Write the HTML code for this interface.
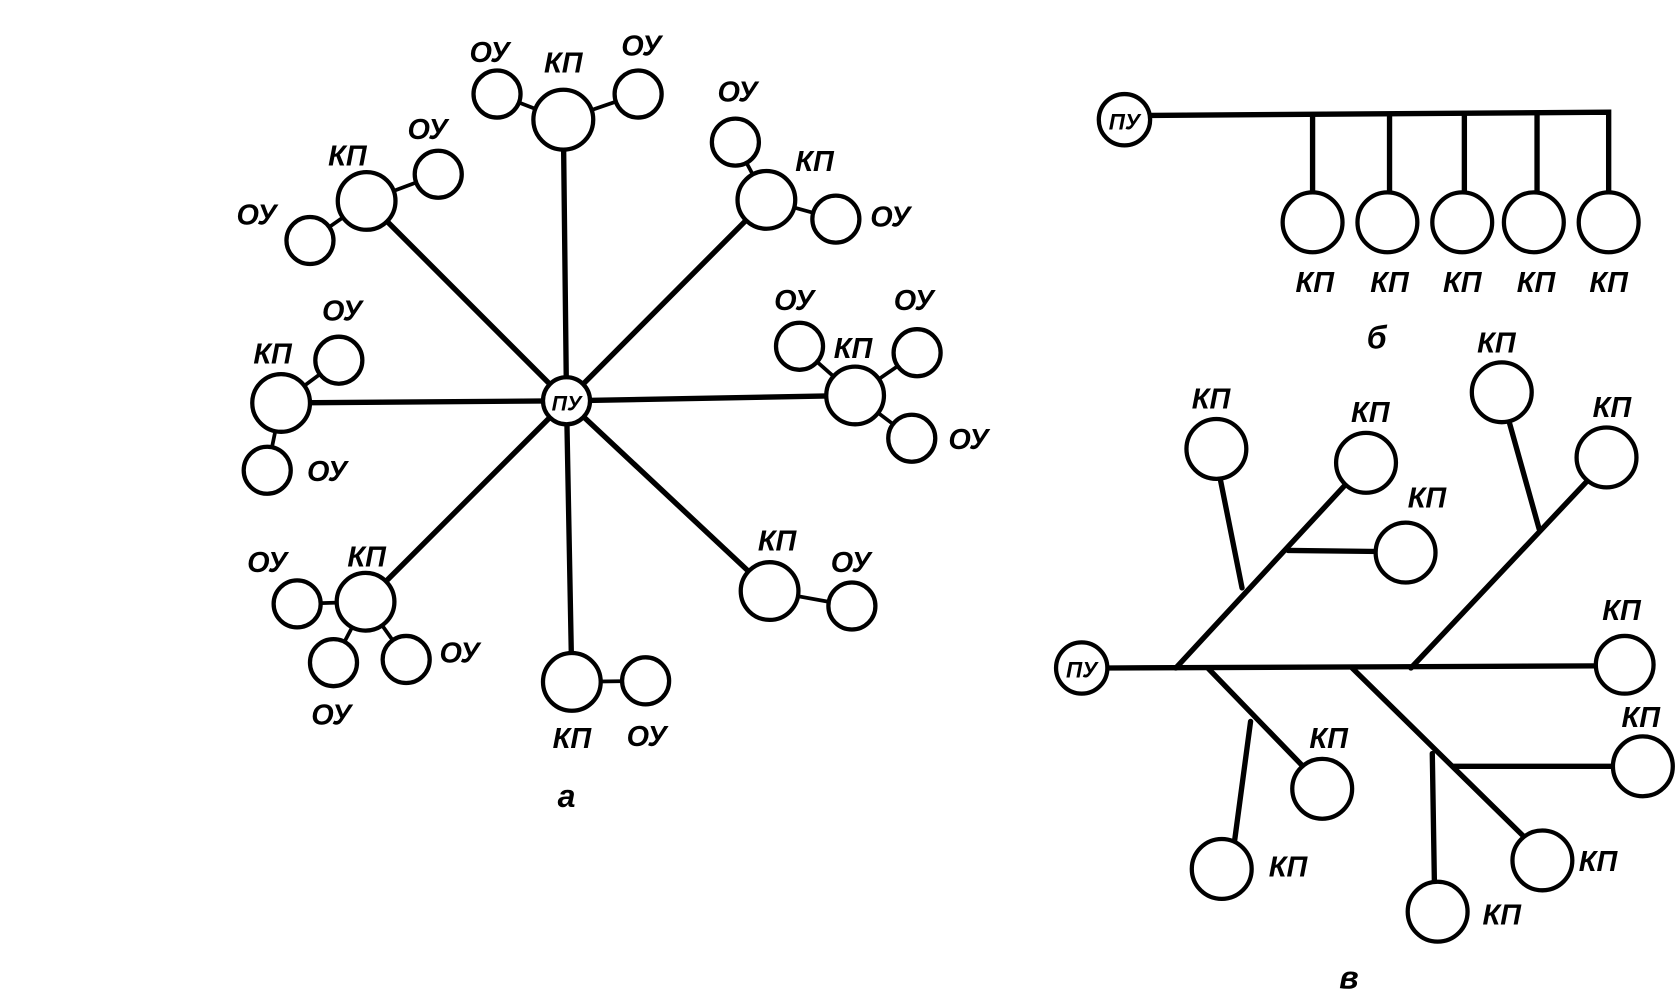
<!DOCTYPE html>
<html><head><meta charset="utf-8"><style>html,body{margin:0;padding:0;background:#fff}svg{display:block}</style></head>
<body>
<svg width="1676" height="994" viewBox="0 0 1568 930" preserveAspectRatio="none" xmlns="http://www.w3.org/2000/svg">
<g stroke="#000" stroke-width="5" fill="none" stroke-linecap="round">
<!-- a spokes -->
<line x1="530" y1="375" x2="527" y2="112"/>
<line x1="530" y1="375" x2="343" y2="188"/>
<line x1="530" y1="375" x2="717" y2="187"/>
<line x1="530" y1="375" x2="263" y2="377"/>
<line x1="530" y1="375" x2="800" y2="370"/>
<line x1="530" y1="375" x2="342" y2="563"/>
<line x1="530" y1="375" x2="720" y2="553"/>
<line x1="530" y1="375" x2="535" y2="638"/>
<!-- a small connectors -->
<g stroke-width="3.5">
<line x1="527" y1="112" x2="465" y2="88"/><line x1="527" y1="112" x2="597" y2="88"/>
<line x1="343" y1="188" x2="410" y2="163"/><line x1="343" y1="188" x2="290" y2="225"/>
<line x1="717" y1="187" x2="688" y2="133"/><line x1="717" y1="187" x2="782" y2="205"/>
<line x1="263" y1="377" x2="317" y2="337"/><line x1="263" y1="377" x2="250" y2="440"/>
<line x1="800" y1="370" x2="748" y2="324"/><line x1="800" y1="370" x2="858" y2="330"/><line x1="800" y1="370" x2="853" y2="410"/>
<line x1="342" y1="563" x2="278" y2="565"/><line x1="342" y1="563" x2="312" y2="620"/><line x1="342" y1="563" x2="380" y2="617"/>
<line x1="720" y1="553" x2="797" y2="567"/>
<line x1="535" y1="638" x2="604" y2="637"/>
</g>
<!-- b -->
<polyline points="1076,108 1505,105 1505,183"/>
<line x1="1228" y1="108" x2="1228" y2="183"/>
<line x1="1300" y1="108" x2="1300" y2="183"/>
<line x1="1370" y1="107" x2="1370" y2="183"/>
<line x1="1438" y1="106" x2="1438" y2="183"/>
<!-- v -->
<line x1="1036" y1="625" x2="1495" y2="623"/>
<line x1="1100" y1="625" x2="1262" y2="450"/>
<line x1="1142" y1="450" x2="1162" y2="550"/>
<line x1="1205" y1="515" x2="1290" y2="516"/>
<line x1="1320" y1="625" x2="1485" y2="450"/>
<line x1="1412" y1="395" x2="1440" y2="495"/>
<line x1="1130" y1="625" x2="1220" y2="718"/>
<line x1="1170" y1="675" x2="1155" y2="787"/>
<line x1="1265" y1="625" x2="1428" y2="785"/>
<line x1="1340" y1="705" x2="1342" y2="828"/>
<line x1="1360" y1="717" x2="1510" y2="717"/>
</g>
<g stroke="#000" stroke-width="4" fill="#fff">
<circle cx="530" cy="375" r="22"/>
<circle cx="527" cy="112" r="28"/><circle cx="465" cy="88" r="22"/><circle cx="597" cy="88" r="22"/>
<circle cx="343" cy="188" r="27"/><circle cx="410" cy="163" r="22"/><circle cx="290" cy="225" r="22"/>
<circle cx="717" cy="187" r="27"/><circle cx="688" cy="133" r="22"/><circle cx="782" cy="205" r="22"/>
<circle cx="263" cy="377" r="27"/><circle cx="317" cy="337" r="22"/><circle cx="250" cy="440" r="22"/>
<circle cx="800" cy="370" r="27"/><circle cx="748" cy="324" r="22"/><circle cx="858" cy="330" r="22"/><circle cx="853" cy="410" r="22"/>
<circle cx="342" cy="563" r="27"/><circle cx="278" cy="565" r="22"/><circle cx="312" cy="620" r="22"/><circle cx="380" cy="617" r="22"/>
<circle cx="720" cy="553" r="27"/><circle cx="797" cy="567" r="22"/>
<circle cx="535" cy="638" r="27"/><circle cx="604" cy="637" r="22"/>
<circle cx="1052" cy="112" r="24"/>
<circle cx="1228" cy="208" r="28"/><circle cx="1298" cy="208" r="28"/><circle cx="1368" cy="208" r="28"/><circle cx="1435" cy="208" r="28"/><circle cx="1505" cy="208" r="28"/>
<circle cx="1012" cy="625" r="24"/>
<circle cx="1520" cy="622" r="27"/>
<circle cx="1278" cy="433" r="28"/><circle cx="1138" cy="420" r="28"/><circle cx="1315" cy="517" r="28"/>
<circle cx="1503" cy="428" r="28"/><circle cx="1405" cy="367" r="28"/>
<circle cx="1237" cy="738" r="28"/><circle cx="1143" cy="813" r="28"/>
<circle cx="1443" cy="805" r="28"/><circle cx="1345" cy="853" r="28"/><circle cx="1537" cy="717" r="28"/>
</g>
<g font-family="Liberation Sans, sans-serif" font-weight="bold" font-style="italic" font-size="27" text-anchor="middle" fill="#000">
<text x="530" y="384" font-size="20">ПУ</text>
<text x="1052" y="121" font-size="21">ПУ</text>
<text x="1012" y="634" font-size="21">ПУ</text>
<text x="458" y="58">ОУ</text><text x="527" y="68">КП</text><text x="600" y="52">ОУ</text>
<text x="325" y="155">КП</text><text x="400" y="130">ОУ</text><text x="240" y="210">ОУ</text>
<text x="690" y="95">ОУ</text><text x="762" y="160">КП</text><text x="833" y="212">ОУ</text>
<text x="255" y="340">КП</text><text x="320" y="300">ОУ</text><text x="306" y="450">ОУ</text>
<text x="743" y="290">ОУ</text><text x="798" y="335">КП</text><text x="855" y="290">ОУ</text><text x="906" y="420">ОУ</text>
<text x="250" y="535">ОУ</text><text x="343" y="530">КП</text><text x="430" y="620">ОУ</text><text x="310" y="678">ОУ</text>
<text x="727" y="515">КП</text><text x="796" y="535">ОУ</text>
<text x="535" y="700">КП</text><text x="605" y="698">ОУ</text>
<text x="530" y="755" font-size="30">а</text>
<text x="1230" y="273">КП</text><text x="1300" y="273">КП</text><text x="1368" y="273">КП</text><text x="1437" y="273">КП</text><text x="1505" y="273">КП</text>
<text x="1288" y="326" font-size="30">б</text>
<text x="1517" y="580">КП</text><text x="1282" y="395">КП</text><text x="1133" y="382">КП</text><text x="1335" y="475">КП</text>
<text x="1508" y="390">КП</text><text x="1400" y="330">КП</text><text x="1243" y="700">КП</text><text x="1205" y="820">КП</text>
<text x="1495" y="815">КП</text><text x="1405" y="865">КП</text><text x="1535" y="680">КП</text>
<text x="1262" y="925" font-size="30">в</text>
</g>
</svg>
</body></html>
